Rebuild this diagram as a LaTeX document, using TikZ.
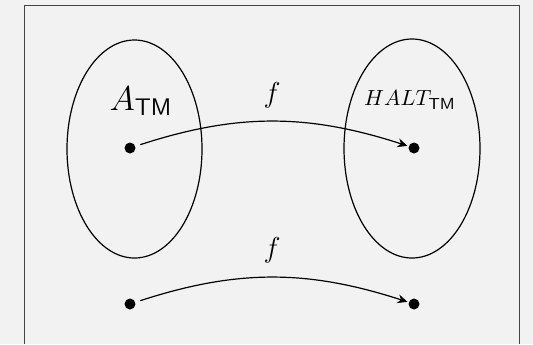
\documentclass[tikz,border=0pt]{standalone}
\usetikzlibrary{arrows.meta}

\begin{document}
\begin{tikzpicture}[x=0.5pt,y=0.5pt,yscale=-1,xscale=1]
\tikzset{
  dot/.style={circle,fill=black,inner sep=0pt,minimum size=5.5pt},
  mapto/.style={-{Stealth[length=5pt,width=4.5pt]},line width=0.6pt,bend right=18,shorten <=2.5pt,shorten >=0.5pt},
  setline/.style={line width=0.6pt}
}
%Background and frame
\fill [black!5] (0,0) rectangle (533,344);
\useasboundingbox (0,0) rectangle (533,344);
\draw [color={rgb, 255:red, 68; green, 68; blue, 68 }] (24.5,344) -- (24.5,5) -- (519,5) -- (519,344);

%Shape: Ellipse [left set]
\draw [setline] (134.5,149) ellipse [x radius=67.5, y radius=109];
%Shape: Ellipse [right set]
\draw [setline] (412,148.5) ellipse [x radius=68, y radius=109.5];

% Points
\node [dot] (a1) at (130,148) {};
\node [dot] (b1) at (414,148) {};
\node [dot] (a2) at (130,304) {};
\node [dot] (b2) at (414,304) {};

% Maps
\draw [mapto] (a1) to (b1);
\draw [mapto] (a2) to (b2);

% Text Node
\node [font=\LARGE] (atm) at (141,101) {$A_{\mathsf{TM}}$};
% Text Node
\node [font=\fontsize{11}{13}\selectfont] (halt) at (410,100) {$HALT_{\mathsf{TM}}$};
% Text Node
\node [font=\Large] (f1) at (272,95) {$f$};
% Text Node
\node [font=\Large] (f2) at (272,250) {$f$};

\end{tikzpicture}
\end{document}
